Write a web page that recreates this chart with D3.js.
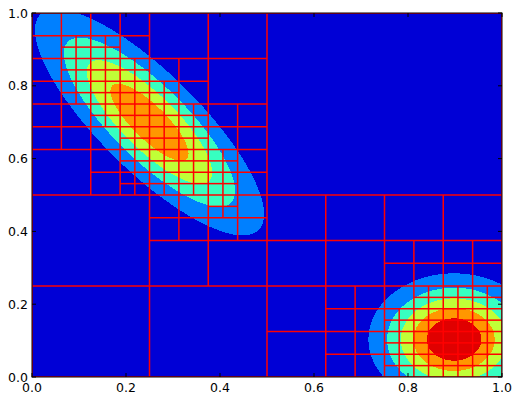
<!DOCTYPE html>
<html>
<head>
<meta charset="utf-8">
<script src="https://cdn.jsdelivr.net/npm/d3@7"></script>
<style>
  body { margin: 0; background: #fff; }
  text { font-family: "DejaVu Sans", sans-serif; font-size: 12.5px; fill: #000; }
</style>
</head>
<body>
<svg id="chart"></svg>
<script>
const xTicks = [0.0, 0.2, 0.4, 0.6, 0.8, 1.0];
const yTicks = [0.0, 0.2, 0.4, 0.6, 0.8, 1.0];

// two gaussian bumps
const bumpX = [0.25, 0.898];
const bumpY = [0.70, 0.103];
const bumpSx = [0.1376, 0.096];
const bumpSy = [0.1756, 0.096];
const bumpRho = [-0.813, 0];
const bumpPeak = [0.80, 1.0];

const levels = [1 / 6, 2 / 6, 3 / 6, 4 / 6, 5 / 6];
const bandColors = ["#0000d6", "#0080ff", "#37ffc0", "#c0ff37", "#ff9700", "#e00000"];

// quadtree: cells that get split, per depth, as [i, j] (j counted from the bottom)
const split0 = [[0, 0]];
const split1 = [[0, 0], [0, 1], [1, 0]];
const split2 = [[1, 1], [0, 2], [1, 2], [0, 3], [1, 3], [2, 0], [3, 0], [2, 1], [3, 1]];
const split3 = [[2, 3], [3, 3], [1, 4], [0, 5], [1, 5], [2, 4], [3, 4], [2, 5], [3, 5],
  [0, 6], [1, 6], [0, 7], [1, 7], [2, 6], [5, 0], [5, 1], [6, 0], [7, 0], [6, 1], [7, 1],
  [6, 2], [7, 2]];
const split4 = [[6, 7], [3, 8], [3, 9], [3, 10], [2, 11], [3, 11], [4, 8], [5, 8], [4, 9],
  [5, 9], [6, 8], [6, 9], [4, 10], [5, 10], [4, 11], [5, 11], [1, 12], [1, 13], [2, 12],
  [3, 12], [2, 13], [3, 13], [1, 14], [2, 14], [4, 12], [12, 0], [13, 0], [12, 1], [13, 1],
  [14, 0], [15, 0], [14, 1], [15, 1], [12, 2], [13, 2], [13, 3], [14, 2], [15, 2], [14, 3],
  [15, 3]];

const width = 512, height = 394;
const margin = { top: 13, right: 10, bottom: 17, left: 32 };

const svg = d3.select("#chart").attr("width", width).attr("height", height);

const x = d3.scaleLinear().domain([0, 1]).range([margin.left, width - margin.right]);
const y = d3.scaleLinear().domain([0, 1]).range([height - margin.bottom, margin.top]);

svg.append("clipPath").attr("id", "plot-clip")
  .append("rect")
  .attr("x", x(0)).attr("y", y(1))
  .attr("width", x(1) - x(0)).attr("height", y(0) - y(1));

const plot = svg.append("g").attr("clip-path", "url(#plot-clip)");

// field on a grid
function field(px, py) {
  let v = 0;
  for (let k = 0; k < bumpX.length; k++) {
    const dx = (px - bumpX[k]) / bumpSx[k];
    const dy = (py - bumpY[k]) / bumpSy[k];
    const r = bumpRho[k];
    const q = (dx * dx - 2 * r * dx * dy + dy * dy) / (1 - r * r);
    v += bumpPeak[k] * Math.exp(-0.5 * q);
  }
  return v;
}

const n = 260;
const values = new Float64Array(n * n);
for (let j = 0; j < n; j++) {
  for (let i = 0; i < n; i++) {
    values[j * n + i] = field(i / (n - 1), 1 - j / (n - 1));
  }
}

const gridToPlot = d3.geoTransform({
  point: function (cx, cy) {
    this.stream.point(x((cx - 0.5) / (n - 1)), y(1 - (cy - 0.5) / (n - 1)));
  }
});
const path = d3.geoPath(gridToPlot);

plot.append("rect")
  .attr("x", x(0)).attr("y", y(1))
  .attr("width", x(1) - x(0)).attr("height", y(0) - y(1))
  .attr("fill", bandColors[0]);

const contours = d3.contours().size([n, n]).thresholds(levels)(values);

plot.selectAll("path.band")
  .data(contours)
  .enter()
  .append("path")
  .attr("class", "band")
  .attr("d", path)
  .attr("fill", (d, i) => bandColors[i + 1])
  .attr("shape-rendering", "crispEdges");

// quadtree lines
const splits = [split0, split1, split2, split3, split4];
const segs = [];
splits.forEach((cells, level) => {
  const s = 1 / Math.pow(2, level);
  cells.forEach(([i, j]) => {
    segs.push([(i + 0.5) * s, j * s, (i + 0.5) * s, (j + 1) * s]);
    segs.push([i * s, (j + 0.5) * s, (i + 1) * s, (j + 0.5) * s]);
  });
});

plot.selectAll("line.cell")
  .data(segs)
  .enter()
  .append("line")
  .attr("class", "cell")
  .attr("x1", d => x(d[0])).attr("y1", d => y(d[1]))
  .attr("x2", d => x(d[2])).attr("y2", d => y(d[3]))
  .attr("stroke", "#ff0000")
  .attr("stroke-width", 1.5);

plot.append("rect")
  .attr("x", x(0)).attr("y", y(1))
  .attr("width", x(1) - x(0)).attr("height", y(0) - y(1))
  .attr("fill", "none")
  .attr("stroke", "#ff0000")
  .attr("stroke-width", 1.5);

// ticks inward on all four sides
const tickLen = 4;
const ticks = svg.append("g").attr("stroke", "#000").attr("stroke-width", 1);
xTicks.forEach(t => {
  ticks.append("line").attr("x1", x(t)).attr("x2", x(t))
    .attr("y1", y(0)).attr("y2", y(0) - tickLen);
  ticks.append("line").attr("x1", x(t)).attr("x2", x(t))
    .attr("y1", y(1)).attr("y2", y(1) + tickLen);
});
yTicks.forEach(t => {
  ticks.append("line").attr("y1", y(t)).attr("y2", y(t))
    .attr("x1", x(0)).attr("x2", x(0) + tickLen);
  ticks.append("line").attr("y1", y(t)).attr("y2", y(t))
    .attr("x1", x(1)).attr("x2", x(1) - tickLen);
});

svg.append("rect")
  .attr("x", x(0)).attr("y", y(1))
  .attr("width", x(1) - x(0)).attr("height", y(0) - y(1))
  .attr("fill", "none")
  .attr("stroke", "#000")
  .attr("stroke-width", 1);

svg.selectAll("text.xt")
  .data(xTicks)
  .enter()
  .append("text")
  .attr("class", "xt")
  .attr("x", d => x(d))
  .attr("y", y(0) + 15)
  .attr("text-anchor", "middle")
  .text(d => d.toFixed(1));

svg.selectAll("text.yt")
  .data(yTicks)
  .enter()
  .append("text")
  .attr("class", "yt")
  .attr("x", x(0) - 4)
  .attr("y", d => y(d))
  .attr("dy", "0.36em")
  .attr("text-anchor", "end")
  .text(d => d.toFixed(1));
</script>
</body>
</html>
